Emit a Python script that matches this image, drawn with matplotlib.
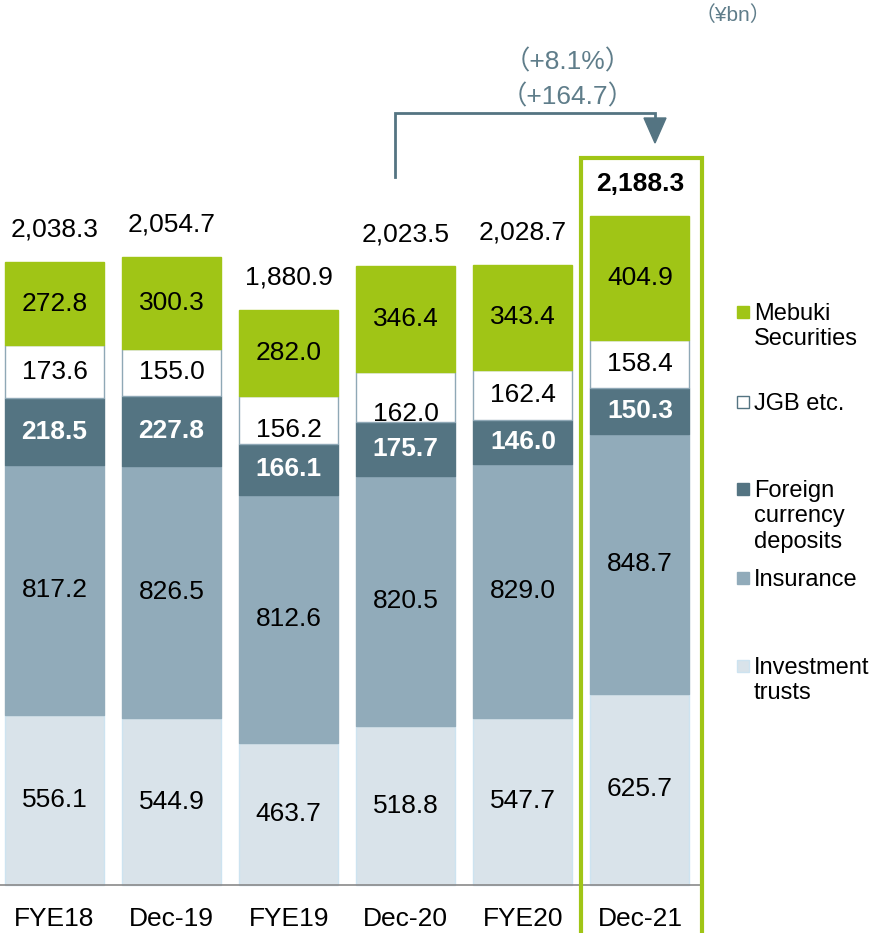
import numpy as np
import matplotlib.pyplot as plt
from matplotlib.patches import Rectangle, Polygon

# data (¥bn)
cats = ["FYE18", "Dec-19", "FYE19", "Dec-20", "FYE20", "Dec-21"]
invest = [556.1, 544.9, 463.7, 518.8, 547.7, 625.7]
insur = [817.2, 826.5, 812.6, 820.5, 829.0, 848.7]
fx = [218.5, 227.8, 166.1, 175.7, 146.0, 150.3]
jgb = [173.6, 155.0, 156.2, 162.0, 162.4, 158.4]
mebuki = [272.8, 300.3, 282.0, 346.4, 343.4, 404.9]
totals = [2038.3, 2054.7, 1880.9, 2023.5, 2028.7, 2188.3]

series = [invest, insur, fx, jgb, mebuki]
colors = ["#d9e3ea", "#91abba", "#547482", "#ffffff", "#a0c516"]
edges = ["#cde3f0", "#91abba", "#547482", "#8fa8b6", "#a0c516"]
txtcol = ["black", "black", "white", "black", "black"]
weights = ["normal", "normal", "bold", "normal", "normal"]
names = ["Investment\ntrusts", "Insurance", "Foreign\ncurrency\ndeposits",
         "JGB etc.", "Mebuki\nSecurities"]

W, H = 878, 933
plt.rcParams['font.family'] = ['Liberation Sans', 'Noto Sans CJK JP', 'DejaVu Sans']
fig = plt.figure(figsize=(W / 100, H / 100), dpi=100)
ax = fig.add_axes([0, 0, 1, 1])
ax.set_axis_off()

# pixel mapping: bar i centre at 54.5 + 117.1*i, baseline at y=885px, 0.3057 px per unit
sx, x0 = 117.1, 54.5
sy, y0 = 0.3057, H - 885
ax.set_xlim(-x0 / sx, (W - x0) / sx)
ax.set_ylim(-y0 / sy, (H - y0) / sy)

def px(x, y):
    return x / W, 1 - y / H

# a couple of labels sit a bit low in the original (pixels, downward)
nudge = {(3, 2): 10, (3, 3): 17}

x = np.arange(len(cats))
bw = 99 / sx
bottom = np.zeros(len(cats))
for k, s in enumerate(series):
    ax.bar(x, s, bw, bottom=bottom, color=colors[k], edgecolor=edges[k],
           linewidth=1.0, zorder=2)
    for i, v in enumerate(s):
        yy = bottom[i] + v / 2 - nudge.get((k, i), 0) / sy
        ax.text(x[i], yy, f"{v:.1f}", ha='center', va='center',
                fontsize=19, color=txtcol[k], fontweight=weights[k], zorder=3)
    bottom += np.array(s)

for i, t in enumerate(totals):
    ax.text(x[i], t + 105, f"{t:,.1f}", ha='center', va='center', fontsize=19,
            fontweight='bold' if i == len(cats) - 1 else 'normal')
    ax.text(x[i], -110, cats[i], ha='center', va='center', fontsize=19)

# baseline
ax.plot([-x0 / sx, (700 - x0) / sx], [0, 0], color='#8a8a8a', lw=1.2, zorder=4)

# highlight box around the last bar
ax.add_patch(Rectangle(((581 - x0) / sx, -300), 121 / sx, 300 + (H - 158 - y0) / sy,
                       fill=False, edgecolor='#a0c516', lw=3, zorder=5))

# growth arrow
ac = '#547482'
xa = (395 - x0) / sx
xb = (655 - x0) / sx
yl = (H - 113 - y0) / sy
ax.plot([xa, xa, xb, xb], [(H - 177 - y0) / sy, yl, yl, (H - 120 - y0) / sy],
        color=ac, lw=2, solid_joinstyle='miter', zorder=4)
ax.add_patch(Polygon([[xb - 11 / sx, (H - 118 - y0) / sy],
                      [xb + 11 / sx, (H - 118 - y0) / sy],
                      [xb, (H - 143 - y0) / sy]], closed=True, color=ac, zorder=4))
fig.text(*px(568, 62), "（+8.1%）", ha='center', va='center', fontsize=19, color='#5f7d8a')
fig.text(*px(568, 97), "（+164.7）", ha='center', va='center', fontsize=19, color='#5f7d8a')
fig.text(*px(733, 15), "（¥bn）", ha='center', va='center', fontsize=15, color='#5f7d8a')

# legend
leg_y = [666, 578, 489, 402, 312]
for k in range(len(series)):
    ax.add_patch(Rectangle(((737 - x0) / sx, (H - leg_y[k] - 6 - y0) / sy), 12 / sx, 12 / sy,
                           facecolor=colors[k], edgecolor=edges[k] if k != 3 else '#547482',
                           lw=1, zorder=5))
    fig.text(*px(754, leg_y[k] - 9), names[k], ha='left', va='top', fontsize=17,
             linespacing=1.2)

fig.savefig("out.png", dpi=100)
